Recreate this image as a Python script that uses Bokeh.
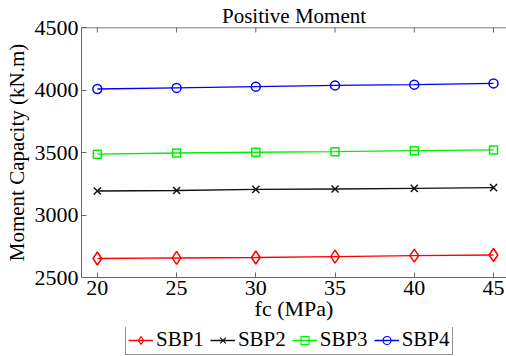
from math import pi
from bokeh.plotting import figure
from bokeh.layouts import column
from bokeh.models import Range1d, LinearAxis, FixedTicker, Legend, LegendItem, Span
from bokeh.embed import file_html
from bokeh.resources import INLINE

fc = [20, 25, 30, 35, 40, 45]
sbp1 = [2652, 2657, 2660, 2667, 2675, 2680]
sbp2 = [3192, 3196, 3205, 3208, 3213, 3219]
sbp3 = [3487, 3496, 3502, 3507, 3515, 3521]
sbp4 = [4008, 4017, 4027, 4037, 4043, 4053]
x_ticks = [20, 25, 30, 35, 40, 45]
y_ticks = [2500, 3000, 3500, 4000, 4500]

FONT = "Liberation Serif"
AX = "#666666"

p = figure(width=506, height=327, output_backend="svg", toolbar_location=None,
           x_range=Range1d(19, 45.82), y_range=Range1d(2500, 4500),
           x_axis_location=None, y_axis_location=None,
           min_border_left=81, min_border_right=0, min_border_top=27, min_border_bottom=50)
p.outline_line_color = None
p.grid.visible = False
p.background_fill_color = "white"

p.title.text = "Positive Moment"
p.title.align = "center"
p.title.text_font = FONT
p.title.text_font_size = "21px"
p.title.text_font_style = "normal"
p.title.text_color = "black"
p.title.standoff = 0

def style_axis(ax):
    ax.axis_line_color = AX
    ax.major_tick_line_color = AX
    ax.major_tick_in = 5
    ax.major_tick_out = 0
    ax.minor_tick_line_color = None
    ax.major_label_text_font = FONT
    ax.major_label_text_font_size = "22px"
    ax.major_label_text_color = "black"
    ax.axis_label_text_font = FONT
    ax.axis_label_text_font_style = "normal"
    ax.axis_label_text_color = "black"

xb = LinearAxis(ticker=FixedTicker(ticks=x_ticks), axis_label="fc (MPa)")
style_axis(xb)
xb.axis_label_text_font_size = "22px"
xb.major_label_standoff = 3
xb.axis_label_standoff = -2
p.add_layout(xb, "below")

yl = LinearAxis(ticker=FixedTicker(ticks=y_ticks), axis_label="Moment Capacity (kN.m)")
style_axis(yl)
yl.axis_label_text_font_size = "21px"
yl.major_label_standoff = 3
yl.axis_label_standoff = 3
p.add_layout(yl, "left")

# top frame edge with inward ticks at the x tick positions
p.add_layout(Span(location=y_ticks[-1], dimension="width", line_color="#555555", line_width=1.5))
p.scatter(x_ticks, [y_ticks[-1]] * len(x_ticks), marker="dash", angle=pi / 2, size=10,
          line_color=AX, line_width=1)

series = [
    ("SBP1", sbp1, "#ff0000", "diamond", 13),
    ("SBP2", sbp2, "#111111", "x", 10),
    ("SBP3", sbp3, "#00ee00", "square", 8),
    ("SBP4", sbp4, "#0000ff", "circle", 9),
]
for name, ys, col, mk, sz in series:
    p.line(fc, ys, line_color=col, line_width=1.5)
    p.scatter(fc, ys, marker=mk, size=sz, line_color=col, fill_color=None, line_width=1.5)

# legend strip below the axes; its renderers hold the series but lie outside the strip's ranges
q = figure(width=506, height=29, output_backend="svg", toolbar_location=None,
           x_range=Range1d(0, 1), y_range=Range1d(0, 1),
           x_axis_location=None, y_axis_location=None,
           min_border_left=0, min_border_right=0, min_border_top=0, min_border_bottom=0)
q.outline_line_color = None
q.grid.visible = False
items = []
for name, ys, col, mk, sz in series:
    ln = q.line(fc, ys, line_color=col, line_width=1.5)
    sc = q.scatter(fc, ys, marker=mk, size=sz - 2, line_color=col, fill_color=None, line_width=1.2)
    items.append(LegendItem(label=name, renderers=[ln, sc]))

leg = Legend(items=items, orientation="horizontal", location=(44, 1))
leg.label_text_font = FONT
leg.label_text_font_size = "21px"
leg.label_text_color = "black"
leg.glyph_width = 25
leg.glyph_height = 20
leg.label_standoff = 3
leg.spacing = 6
leg.padding = 2
leg.margin = 0
leg.border_line_color = "#222222"
leg.border_line_width = 1
leg.background_fill_color = "white"
q.add_layout(leg, "center")

layout = column(p, q, spacing=0)
open("out.html", "w").write(file_html(layout, INLINE))
